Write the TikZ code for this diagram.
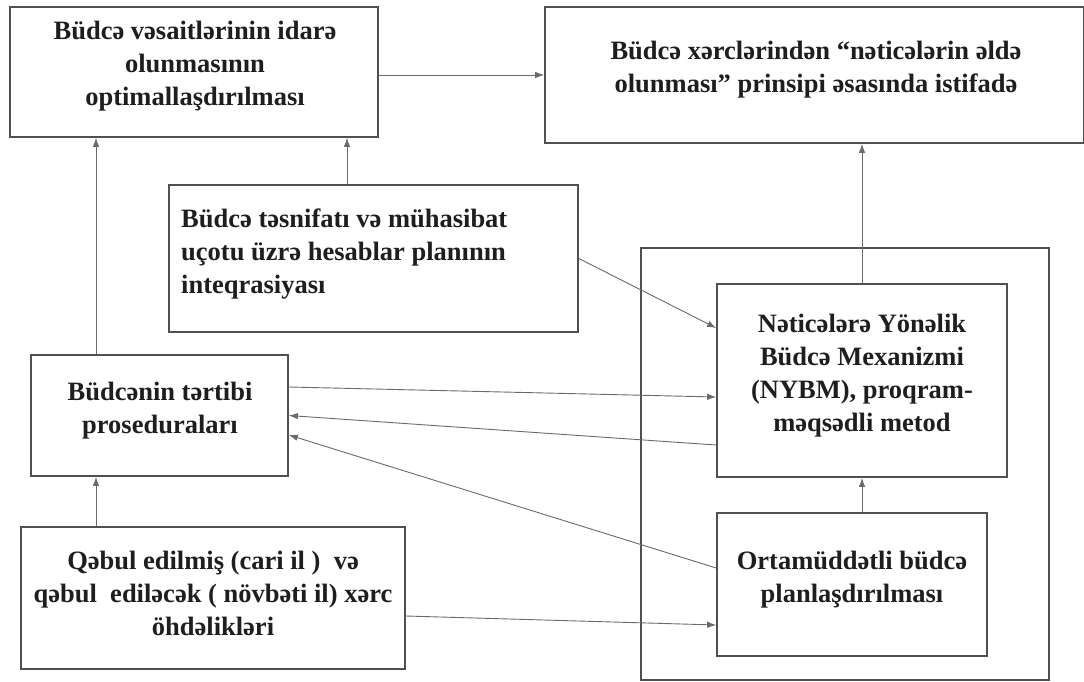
\documentclass[tikz,border=0pt]{standalone}
\usepackage{fontspec}
\setmainfont{Liberation Serif}
\usetikzlibrary{arrows.meta}
\definecolor{boxline}{HTML}{505050}
\definecolor{arrline}{HTML}{6A6A6A}
\definecolor{ink}{HTML}{1E1E1E}
\begin{document}
\begin{tikzpicture}[x=1pt,y=-1pt,
  box/.style={draw=boxline, line width=1.7pt, inner sep=0pt, rectangle},
  txt/.style={font={\fontsize{26.5}{33}\selectfont\bfseries}, text=ink, align=center, inner sep=0pt},
  arr/.style={draw=arrline, line width=0.9pt, -{Latex[length=9pt,width=6.5pt]}}]
\useasboundingbox (0,0) rectangle (1084,682);
\fill[white] (0,0) rectangle (1084,682);
% boxes
\node[box, minimum width=368pt, minimum height=130pt] (A) at (194,72) {};
\node[box, minimum width=539pt, minimum height=136pt] (B) at (814.5,75) {};
\node[box, minimum width=409pt, minimum height=147pt] (D) at (373.5,258.5) {};
\node[box, minimum width=257pt, minimum height=121pt] (C) at (159.5,415.5) {};
\node[box, minimum width=384pt, minimum height=142pt] (G) at (213,598) {};
\node[box, minimum width=408pt, minimum height=432pt] (H) at (845,464) {};
\node[box, minimum width=290pt, minimum height=193pt] (E) at (862,380.5) {};
\node[box, minimum width=270pt, minimum height=143pt] (F) at (852,584.5) {};
% texts
\node[txt] (At) at (195,66) {Büdcə vəsaitlərinin idarə\\olunmasının\\optimallaşdırılması};
\node[txt] (Bt) at (816,70) {Büdcə xərclərindən “nəticələrin əldə\\olunması” prinsipi əsasında istifadə};
\node[txt, align=left, anchor=west] (Dt) at (181,254.5) {Büdcə təsnifatı və mühasibat\\uçotu üzrə hesablar planının\\inteqrasiyası};
\node[txt] (Ct) at (160,411) {Büdcənin tərtibi\\proseduraları};
\node[txt] (Et) at (862,375.5) {Nəticələrə Yönəlik\\Büdcə Mexanizmi\\(NYBM), proqram-\\məqsədli metod};
\node[txt] (Ft) at (852,580) {Ortamüddətli büdcə\\planlaşdırılması};
\node[txt] (Gt) at (213,593) {Qəbul edilmiş (cari il )\ \ və\\qəbul\ \ ediləcək ( növbəti il) xərc\\öhdəlikləri};
% connectors
\draw[arr] ([yshift=-3pt]A.east) -- (B.west);
\draw[arr] ([xshift=-63.5pt]C.north) -- ([xshift=-63.5pt]C.north |- A.south);
\draw[arr] ([xshift=-26.5pt]D.north) -- ([xshift=-26.5pt]D.north |- A.south);
\draw[arr] (E.north) -- (E.north |- B.south);
\draw[arr] ([xshift=10pt]F.north) -- ([xshift=10pt]F.north |- E.south);
\draw[arr] (D.east) -- ([yshift=52.5pt]E.west);
\draw[arr] ([yshift=28.5pt]C.east) -- ([yshift=-16.5pt]E.west);
\draw[arr] ([yshift=-64.5pt]E.west) -- (C.east);
\draw[arr] ([yshift=16.5pt]F.west) -- ([yshift=-19.5pt]C.east);
\draw[arr] ([yshift=-18pt]G.east) -- ([yshift=-40.5pt]F.west);
\draw[arr] ([xshift=-117pt]G.north) -- ([xshift=-117pt]G.north |- C.south);
\end{tikzpicture}
\end{document}
